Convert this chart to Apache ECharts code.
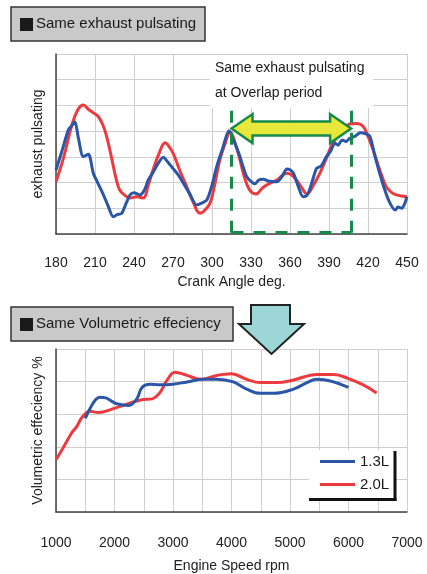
<!DOCTYPE html>
<html><head><meta charset="utf-8">
<script src="https://cdn.jsdelivr.net/npm/echarts@6/dist/echarts.min.js"></script>
<style>html,body{margin:0;padding:0;background:#fff}#c{width:427px;height:574px}</style>
</head><body><div id="c"></div>
<script>
// Top chart: exhaust pulsating vs crank angle
const crankTicks = [180,210,240,270,300,330,360,390,420,450];
const pulse13L = [[180,2.49],[185,3.3],[189.5,4.05],[192,4.2],[194.6,4.37],[197,3.79],[201,3.01],[205,3.1],[208.7,2.36],[212,2.0],[216,1.58],[220,1.1],[224,0.67],[227,0.75],[230.5,0.8],[234,1.2],[237,1.52],[240,1.6],[244.6,1.52],[248,1.71],[251,2.1],[255,2.42],[258,2.7],[262.5,2.98],[266,2.8],[270,2.55],[274,2.3],[278,1.97],[283,1.55],[288,1.13],[292,1.2],[296,1.32],[300,1.9],[303.6,2.62],[308,3.3],[313,4.02],[317,3.6],[321.5,3.01],[324,2.6],[326.7,2.23],[330,2.05],[333,1.95],[336,2.1],[339.5,2.13],[344,2.05],[350,2.03],[354,2.25],[357.5,2.53],[360,2.5],[362.7,2.36],[366,1.9],[370,1.45],[373,1.5],[375,1.71],[378,2.2],[380.5,2.55],[384,2.65],[388,3.01],[391,3.2],[394.6,3.53],[397,3.45],[400,3.66],[403,3.6],[406,3.72],[410,3.8],[414,3.94],[418,3.9],[421.5,3.79],[425,3.1],[429,2.36],[433,1.7],[437,1.19],[441,0.93],[443,1.05],[446,1.0],[448,1.15],[450,1.45]];
const pulse20L = [[180,2.03],[186,3.0],[192,4.2],[197,4.85],[201,5.02],[205,4.85],[209,4.7],[212.5,4.57],[216,4.25],[219,3.79],[223,2.9],[226,2.2],[229,1.71],[233,1.5],[237,1.4],[242,1.45],[247,1.4],[251,1.9],[254.6,2.49],[259,3.1],[264,3.55],[267,3.4],[270,3.15],[275,2.5],[280.5,1.84],[285,1.3],[290.8,0.81],[294,0.9],[298.5,1.2],[302,1.9],[306,2.88],[310,3.5],[314,3.98],[318,3.5],[321.5,2.88],[325,2.2],[329,1.71],[334,1.56],[339,1.8],[344.6,1.98],[350,2.1],[357.5,2.36],[361,2.3],[365,2.1],[369,1.8],[373,1.56],[378,1.9],[383,2.37],[388,2.95],[393,3.54],[399,3.95],[406,4.28],[411,4.3],[416,4.2],[420,3.8],[424,3.27],[429,2.5],[434,1.84],[438,1.62],[442,1.52],[446,1.48],[450,1.45]];
const overlapStart = 315, overlapEnd = 407;

// Bottom chart: volumetric efficiency vs engine speed
const rpmTicks = [1000,2000,3000,4000,5000,6000,7000];
const ve13L = [[1500,2.87],[1580,3.17],[1680,3.45],[1750,3.52],[1850,3.5],[1950,3.4],[2040,3.32],[2240,3.27],[2380,3.47],[2470,3.82],[2600,3.92],[2780,3.9],[3000,3.92],[3240,3.99],[3520,4.07],[3750,4.07],[4030,3.99],[4260,3.77],[4490,3.64],[4720,3.64],[5060,3.77],[5290,3.97],[5460,4.07],[5690,4.02],[6000,3.82]];
const ve20L = [[1000,1.6],[1125,1.98],[1270,2.43],[1355,2.62],[1440,2.89],[1580,3.09],[1725,3.05],[1980,3.17],[2210,3.31],[2490,3.45],[2640,3.47],[2780,3.67],[2890,4.02],[3035,4.29],[3240,4.19],[3470,4.07],[3750,4.19],[4000,4.24],[4260,4.07],[4490,3.97],[4780,3.97],[5060,4.05],[5460,4.22],[5750,4.22],[6000,4.09],[6260,3.89],[6480,3.65]];
const legendNames = ['1.3L','2.0L'];

const BLUE = '#2b56a8', RED = '#ec3a3f', GREEN = '#17894a';
const FONT = "'Liberation Sans', Arial, sans-serif";

const chart = echarts.init(document.getElementById('c'), null, {renderer:'canvas'});
function xAx(grid, ticks, minorSplit, name, gap, margin){
  const min = ticks[0], max = ticks[ticks.length-1], interval = ticks[1]-ticks[0];
  return {type:'value', gridIndex:grid, min, max, interval, name, nameLocation:'middle', nameGap:gap,
    nameTextStyle:{fontFamily:FONT,fontSize:14,color:'#222'},
    axisLine:{show:true,lineStyle:{color:'#444',width:1.5}}, axisTick:{show:false},
    axisLabel:{fontFamily:FONT,fontSize:14,color:'#222',margin,formatter:v=>String(v)},
    minorTick:{show:false,splitNumber:minorSplit},
    minorSplitLine:{show:minorSplit>1,lineStyle:{color:'#cfcfcf',width:1}},
    splitLine:{show:true,lineStyle:{color:'#cfcfcf',width:1}}};
}
function yAx(grid, max, name){
  return {type:'value', gridIndex:grid, min:0, max, interval:1, name, nameLocation:'middle', nameGap:11,
    nameTextStyle:{fontFamily:FONT,fontSize:14,color:'#222'},
    axisLine:{show:true,lineStyle:{color:'#444',width:1.5}}, axisTick:{show:false}, axisLabel:{show:false},
    splitLine:{show:true,lineStyle:{color:'#cfcfcf',width:1}}};
}
const option = {
  animation:false,
  backgroundColor:'#fff',
  grid:[{left:56,right:20,top:54,height:180},{left:56,right:20,top:349,height:167}],
  xAxis:[xAx(0,crankTicks,1,'Crank Angle deg.',41,22), xAx(1,rpmTicks,2,'Engine Speed rpm',47,24)],
  yAxis:[yAx(0,7,'exhaust pulsating'), yAx(1,5,'Volumetric effeciency %')],
  series:[
    {type:'line', xAxisIndex:0, yAxisIndex:0, data:pulse20L, smooth:0.4, showSymbol:false, lineStyle:{color:RED,width:3}, z:3,
      markLine:{silent:true, symbol:'none', label:{show:false}, lineStyle:{color:GREEN,width:3,type:[12,10]},
        data:[[{coord:[overlapStart,0.05]},{coord:[overlapStart,4.9]}],[{coord:[overlapEnd,0.05]},{coord:[overlapEnd,4.9]}],[{coord:[overlapStart,0.05]},{coord:[overlapEnd,0.05]}]]}},
    {type:'line', xAxisIndex:0, yAxisIndex:0, data:pulse13L, smooth:0.25, showSymbol:false, lineStyle:{color:BLUE,width:3}, z:4},
    {type:'line', name:legendNames[0], xAxisIndex:1, yAxisIndex:1, data:ve13L, smooth:0.4, showSymbol:false, lineStyle:{color:BLUE,width:3}, z:4},
    {type:'line', name:legendNames[1], xAxisIndex:1, yAxisIndex:1, data:ve20L, smooth:0.4, showSymbol:false, lineStyle:{color:RED,width:3}, z:3}
  ]
};
chart.setOption(option);

function titleBox(x,y,w,h,text){
  return {type:'group', children:[
    {type:'rect', shape:{x,y,width:w,height:h}, style:{fill:'#c9c9c9',stroke:'#333',lineWidth:1.5}},
    {type:'rect', shape:{x:x+9,y:y+11,width:13,height:13}, style:{fill:'#1a1a1a'}},
    {type:'text', x:x+25, y:y+h/2, style:{text, fontFamily:FONT, fontSize:15, fill:'#1a1a1a', verticalAlign:'middle'}}
  ]};
}
const a = chart.convertToPixel({gridIndex:0},[overlapStart,4.1]);
const b = chart.convertToPixel({gridIndex:0},[overlapEnd,4.1]);
const ax1=a[0], ax2=b[0], ay=a[1];
const hl=21, hh=14.5, sh=7;
const graphics = [
  titleBox(11,7,194,34,'Same exhaust pulsating'),
  titleBox(11,307,222,34,'Same Volumetric effeciency'),
  // annotation
  {type:'rect', z:50, shape:{x:210,y:55,width:163,height:53}, style:{fill:'#fff'}},
  {type:'text', z:51, x:215, y:68, style:{text:'Same exhaust pulsating', fontFamily:FONT, fontSize:14, fill:'#1a1a1a', verticalAlign:'middle'}},
  {type:'text', z:51, x:215, y:93, style:{text:'at Overlap period', fontFamily:FONT, fontSize:14, fill:'#1a1a1a', verticalAlign:'middle'}},
  {type:'polygon', z:52, shape:{points:[[ax1,ay],[ax1+hl,ay-hh],[ax1+hl,ay-sh],[ax2-hl,ay-sh],[ax2-hl,ay-hh],[ax2,ay],[ax2-hl,ay+hh],[ax2-hl,ay+sh],[ax1+hl,ay+sh],[ax1+hl,ay+hh]]},
    style:{fill:'#e8e83a',stroke:GREEN,lineWidth:2.5}},
  // down arrow
  {type:'polygon', z:52, shape:{points:[[251,305],[290,305],[290,324],[304,324],[271.5,354],[239,324],[251,324]]},
    style:{fill:'#9dd6d6',stroke:'#222',lineWidth:2}},
  // legend
  {type:'rect', z:50, shape:{x:309,y:450,width:86,height:49}, style:{fill:'#fff'}},
  {type:'line', z:51, shape:{x1:395,y1:451,x2:395,y2:501}, style:{stroke:'#111',lineWidth:3}},
  {type:'line', z:51, shape:{x1:309,y1:499.5,x2:396.5,y2:499.5}, style:{stroke:'#111',lineWidth:3}},
  {type:'line', z:51, shape:{x1:320,y1:461.5,x2:355,y2:461.5}, style:{stroke:BLUE,lineWidth:3}},
  {type:'line', z:51, shape:{x1:320,y1:484.5,x2:355,y2:484.5}, style:{stroke:RED,lineWidth:3}},
  {type:'text', z:51, x:360, y:462, style:{text:legendNames[0], fontFamily:FONT, fontSize:15, fill:'#1a1a1a', verticalAlign:'middle'}},
  {type:'text', z:51, x:360, y:485, style:{text:legendNames[1], fontFamily:FONT, fontSize:15, fill:'#1a1a1a', verticalAlign:'middle'}}
];
chart.setOption({graphic:graphics});
</script></body></html>
